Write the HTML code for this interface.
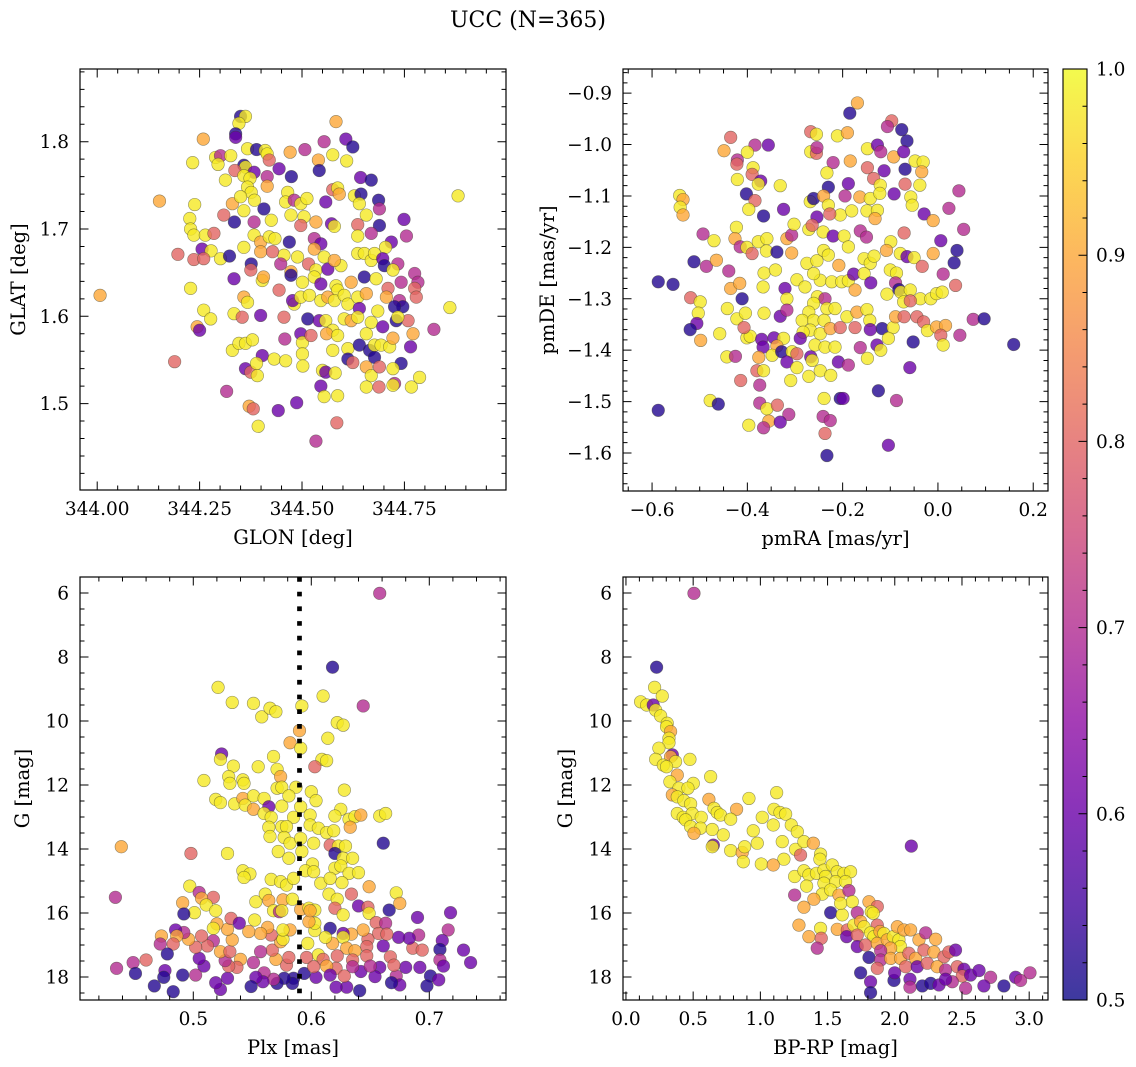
<!DOCTYPE html>
<html><head><meta charset="utf-8"><title>UCC (N=365)</title>
<style>
html,body{margin:0;padding:0;background:#fff;}
svg{display:block;font-family:"DejaVu Serif","Liberation Serif",serif;}
</style></head>
<body>
<svg id="fig" width="1136" height="1067" viewBox="0 0 1136 1067" xmlns="http://www.w3.org/2000/svg">
<defs>
<linearGradient id="plasmaGrad" x1="0" y1="1" x2="0" y2="0">
<stop offset="0" stop-color="#0d0887"/><stop offset="0.1" stop-color="#41049d"/><stop offset="0.2" stop-color="#6a00a8"/><stop offset="0.3" stop-color="#8f0da4"/><stop offset="0.4" stop-color="#b12a90"/><stop offset="0.5" stop-color="#cc4778"/><stop offset="0.6" stop-color="#e16462"/><stop offset="0.7" stop-color="#f2844b"/><stop offset="0.8" stop-color="#fca636"/><stop offset="0.9" stop-color="#fcce25"/><stop offset="1" stop-color="#f0f921"/>
</linearGradient>
</defs>
<text x="528" y="27" font-size="22" text-anchor="middle" fill="#000">UCC (N=365)</text>
</svg>
<script>
// ---------- Panel 1: GLON vs GLAT ----------
const glon = [344.350,344.362,344.346,344.338,344.338,344.259,344.583,344.554,344.607,344.624,344.367,344.389,344.410,344.415,344.420,344.471,344.507,344.575,344.540,344.609,344.233,344.289,344.301,344.326,344.295,344.358,344.362,344.383,344.336,344.444,344.474,344.542,344.643,344.669,344.313,344.358,344.373,344.415,344.415,344.367,344.376,344.152,344.238,344.330,344.350,344.384,344.407,344.465,344.460,344.481,344.497,344.512,344.558,344.575,344.587,344.591,344.628,344.644,344.687,344.689,344.640,344.881,
344.226,344.228,344.309,344.335,344.358,344.383,344.425,344.473,344.505,344.497,344.534,344.572,344.579,344.636,344.657,344.689,344.749,
344.236,344.264,344.285,344.256,344.278,344.301,344.323,344.197,344.236,344.260,344.358,344.383,344.399,344.420,344.434,344.469,344.456,344.489,344.530,344.546,344.530,344.636,344.669,344.718,344.755,
344.376,344.375,344.399,344.428,344.448,344.473,344.516,344.534,344.554,344.563,344.595,344.579,344.636,344.652,344.669,344.677,344.704,344.697,344.701,344.734,344.722,344.775,
344.334,344.403,344.406,344.444,344.473,344.501,344.530,344.546,344.583,344.587,344.620,344.652,344.681,344.710,344.742,344.783,344.775,344.228,
344.358,344.367,344.481,344.477,344.497,344.518,344.546,344.563,344.579,344.603,344.612,344.636,344.657,344.640,344.706,344.738,344.746,344.726,344.779,344.861,
344.260,344.277,344.334,344.354,344.399,344.456,344.514,344.542,344.558,344.575,344.603,344.620,344.636,344.685,344.669,344.697,344.730,344.759,344.734,
344.244,344.250,344.330,344.346,344.362,344.379,344.403,344.432,344.460,344.458,344.497,344.501,344.522,344.501,344.560,344.575,344.587,344.612,344.640,344.657,344.665,344.677,344.677,344.693,344.714,344.722,344.742,344.765,344.771,344.822,
344.189,344.362,344.375,344.389,344.391,344.502,344.550,344.558,344.581,344.612,344.624,344.657,344.669,344.689,344.722,344.726,344.722,344.787,344.767,
344.316,344.546,344.554,344.587,344.657,344.688,
344.371,344.381,344.442,344.487,344.393,344.585,344.534,344.007];
const glat = [1.829,1.829,1.821,1.809,1.805,1.803,1.823,1.800,1.803,1.794,1.792,1.791,1.790,1.786,1.779,1.788,1.791,1.785,1.779,1.778,1.776,1.782,1.784,1.784,1.774,1.773,1.771,1.765,1.767,1.769,1.760,1.767,1.759,1.756,1.756,1.761,1.758,1.760,1.749,1.748,1.742,1.732,1.728,1.729,1.737,1.733,1.723,1.742,1.731,1.733,1.729,1.735,1.731,1.745,1.747,1.740,1.738,1.740,1.733,1.723,1.729,1.738,
1.712,1.700,1.716,1.708,1.721,1.708,1.710,1.716,1.714,1.704,1.708,1.706,1.703,1.705,1.716,1.704,1.711,
1.693,1.693,1.695,1.677,1.675,1.666,1.669,1.671,1.665,1.666,1.679,1.693,1.685,1.691,1.689,1.685,1.670,1.668,1.689,1.683,1.677,1.692,1.695,1.685,1.692,
1.660,1.653,1.674,1.674,1.660,1.651,1.660,1.653,1.668,1.654,1.658,1.664,1.672,1.672,1.664,1.672,1.679,1.666,1.658,1.660,1.653,1.649,
1.643,1.641,1.645,1.630,1.647,1.639,1.645,1.637,1.635,1.630,1.639,1.645,1.643,1.632,1.639,1.639,1.632,1.632,
1.622,1.616,1.614,1.618,1.622,1.624,1.618,1.622,1.618,1.624,1.614,1.622,1.626,1.609,1.622,1.618,1.611,1.611,1.622,1.610,
1.607,1.597,1.603,1.599,1.601,1.599,1.597,1.595,1.595,1.584,1.597,1.595,1.599,1.606,1.593,1.588,1.595,1.595,1.599,
1.588,1.584,1.561,1.569,1.569,1.573,1.555,1.551,1.549,1.574,1.580,1.570,1.578,1.557,1.580,1.561,1.578,1.563,1.567,1.580,1.561,1.553,1.567,1.567,1.565,1.575,1.546,1.565,1.580,1.585,
1.548,1.540,1.536,1.546,1.532,1.543,1.538,1.536,1.535,1.551,1.547,1.542,1.532,1.542,1.540,1.523,1.521,1.530,1.519,
1.514,1.520,1.508,1.509,1.519,1.519,
1.497,1.494,1.492,1.501,1.474,1.478,1.457,1.624];
const prob1 = [0.52,0.98,0.98,0.52,0.6,0.9,0.9,0.7,0.6,0.52,0.98,0.52,0.98,0.98,0.8,0.9,0.7,0.98,0.9,0.98,0.98,0.98,0.7,0.98,0.98,0.52,0.98,0.6,0.8,0.6,0.52,0.52,0.6,0.52,0.98,0.98,0.98,0.7,0.9,0.98,0.98,0.9,0.98,0.9,0.98,0.98,0.52,0.98,0.98,0.7,0.98,0.98,0.6,0.8,0.98,0.9,0.98,0.52,0.52,0.7,0.98,0.98,
0.98,0.98,0.8,0.52,0.98,0.7,0.98,0.98,0.98,0.8,0.9,0.6,0.98,0.8,0.98,0.52,0.6,
0.98,0.98,0.8,0.6,0.98,0.98,0.52,0.8,0.8,0.8,0.98,0.98,0.9,0.98,0.98,0.52,0.98,0.98,0.7,0.6,0.9,0.98,0.7,0.6,0.7,
0.52,0.8,0.9,0.8,0.7,0.9,0.8,0.98,0.98,0.6,0.98,0.9,0.98,0.98,0.98,0.98,0.98,0.6,0.52,0.7,0.98,0.7,
0.6,0.98,0.9,0.8,0.52,0.98,0.98,0.6,0.98,0.98,0.9,0.52,0.98,0.8,0.7,0.7,0.8,0.98,
0.9,0.98,0.98,0.6,0.98,0.98,0.98,0.9,0.98,0.98,0.98,0.98,0.9,0.6,0.9,0.7,0.52,0.52,0.8,0.98,
0.98,0.98,0.98,0.8,0.6,0.8,0.52,0.6,0.98,0.98,0.98,0.9,0.98,0.98,0.98,0.6,0.52,0.8,0.98,
0.9,0.6,0.98,0.98,0.98,0.98,0.6,0.98,0.98,0.7,0.6,0.98,0.8,0.98,0.9,0.98,0.98,0.98,0.52,0.98,0.52,0.52,0.98,0.98,0.98,0.9,0.52,0.6,0.9,0.7,
0.8,0.6,0.8,0.98,0.98,0.98,0.98,0.6,0.98,0.52,0.8,0.9,0.98,0.8,0.98,0.7,0.98,0.98,0.98,
0.7,0.6,0.98,0.98,0.98,0.8,
0.9,0.8,0.6,0.6,0.98,0.8,0.7,0.9];

// ---------- Panel 2: pmRA vs pmDE ----------
const pmra = [-0.169,-0.185,-0.097,-0.106,-0.076,-0.065,-0.435,-0.384,-0.356,-0.449,-0.400,-0.421,-0.422,-0.388,-0.390,-0.372,-0.377,-0.421,-0.331,-0.402,-0.384,-0.397,-0.366,-0.324,-0.542,-0.535,-0.541,-0.535,
-0.267,-0.255,-0.211,-0.190,-0.267,-0.255,-0.254,-0.148,-0.127,-0.120,-0.093,-0.072,-0.184,-0.220,-0.233,-0.148,-0.113,-0.069,-0.048,-0.031,-0.034,-0.188,-0.135,-0.121,-0.230,-0.069,-0.038,0.044,
-0.268,-0.261,-0.240,-0.230,-0.195,-0.164,-0.142,-0.122,-0.092,-0.057,-0.054,-0.029,-0.010,0.023,0.054,-0.205,-0.181,-0.149,-0.127,-0.132,-0.254,-0.227,
-0.423,-0.493,-0.470,-0.426,-0.415,-0.401,-0.390,-0.377,-0.359,-0.360,-0.338,-0.317,-0.307,-0.302,-0.307,-0.271,-0.264,-0.241,-0.220,-0.197,-0.188,-0.163,-0.150,-0.099,-0.071,-0.079,-0.108,-0.065,-0.050,-0.033,-0.010,0.006,0.040,0.034,0.011,0.037,
-0.512,-0.486,-0.465,-0.439,-0.587,-0.556,-0.519,-0.499,-0.503,-0.506,-0.520,-0.498,-0.458,-0.442,-0.435,-0.416,-0.411,-0.422,-0.404,
-0.365,-0.367,-0.341,-0.321,-0.317,-0.365,-0.331,-0.317,-0.296,-0.279,-0.275,-0.254,-0.240,-0.230,-0.208,-0.247,-0.261,-0.223,-0.202,-0.188,-0.174,-0.177,-0.155,-0.142,-0.134,-0.155,-0.141,-0.100,-0.087,-0.089,-0.107,-0.082,-0.078,-0.072,-0.058,-0.037,-0.015,-0.003,0.009,-0.058,
-0.253,-0.237,-0.261,-0.233,-0.216,-0.191,-0.170,-0.149,-0.271,-0.285,-0.261,-0.239,-0.268,-0.247,-0.226,-0.205,-0.174,-0.143,-0.117,-0.142,-0.094,-0.089,-0.071,-0.044,-0.030,-0.022,-0.003,0.016,0.006,0.011,0.046,0.074,0.097,0.159,
-0.283,-0.289,-0.258,-0.237,-0.216,-0.104,-0.128,-0.120,-0.163,-0.148,-0.052,-0.059,
-0.401,-0.394,-0.407,-0.370,-0.367,-0.344,-0.324,-0.338,-0.348,-0.328,-0.306,-0.296,-0.317,-0.296,-0.267,-0.264,-0.443,-0.425,-0.376,-0.380,-0.366,-0.414,-0.374,-0.309,-0.271,-0.247,-0.225,-0.209,-0.188,
-0.478,-0.461,-0.587,-0.374,-0.359,-0.337,-0.313,-0.397,-0.355,-0.331,-0.366,-0.239,-0.205,-0.199,-0.125,-0.087,-0.241,-0.226,-0.237,-0.104,-0.233];
const pmde = [-0.919,-0.939,-0.954,-0.965,-0.971,-0.993,-0.986,-1.001,-1.001,-1.012,-1.015,-1.030,-1.038,-1.045,-1.058,-1.071,-1.077,-1.068,-1.080,-1.096,-1.109,-1.126,-1.139,-1.126,-1.099,-1.107,-1.122,-1.137,
-0.975,-0.980,-0.983,-0.977,-1.014,-1.017,-1.006,-1.008,-1.001,-1.014,-1.024,-1.014,-1.032,-1.035,-1.055,-1.045,-1.051,-1.048,-1.032,-1.034,-1.053,-1.076,-1.066,-1.079,-1.083,-1.077,-1.079,-1.090,
-1.111,-1.105,-1.100,-1.118,-1.100,-1.102,-1.105,-1.095,-1.096,-1.102,-1.118,-1.135,-1.148,-1.124,-1.165,-1.137,-1.129,-1.129,-1.128,-1.144,-1.141,-1.135,
-1.161,-1.174,-1.187,-1.183,-1.199,-1.200,-1.212,-1.189,-1.183,-1.207,-1.209,-1.183,-1.176,-1.155,-1.211,-1.165,-1.157,-1.170,-1.178,-1.178,-1.199,-1.168,-1.180,-1.189,-1.172,-1.212,-1.206,-1.218,-1.220,-1.237,-1.212,-1.187,-1.206,-1.230,-1.252,-1.274,
-1.228,-1.237,-1.225,-1.246,-1.267,-1.272,-1.298,-1.306,-1.328,-1.348,-1.360,-1.381,-1.368,-1.319,-1.280,-1.270,-1.300,-1.339,-1.328,
-1.250,-1.277,-1.244,-1.280,-1.300,-1.328,-1.334,-1.322,-1.263,-1.277,-1.231,-1.226,-1.206,-1.215,-1.235,-1.264,-1.251,-1.267,-1.267,-1.265,-1.283,-1.252,-1.222,-1.231,-1.217,-1.251,-1.269,-1.244,-1.250,-1.269,-1.291,-1.282,-1.287,-1.306,-1.283,-1.300,-1.300,-1.290,-1.287,-1.304,
-1.296,-1.300,-1.309,-1.319,-1.319,-1.335,-1.326,-1.321,-1.326,-1.342,-1.342,-1.342,-1.361,-1.368,-1.358,-1.356,-1.356,-1.342,-1.358,-1.360,-1.356,-1.335,-1.335,-1.335,-1.345,-1.362,-1.355,-1.352,-1.371,-1.390,-1.371,-1.340,-1.339,-1.389,
-1.365,-1.377,-1.390,-1.394,-1.394,-1.377,-1.390,-1.400,-1.395,-1.416,-1.384,-1.434,
-1.376,-1.373,-1.356,-1.379,-1.394,-1.376,-1.377,-1.392,-1.410,-1.403,-1.403,-1.407,-1.423,-1.434,-1.413,-1.420,-1.413,-1.412,-1.414,-1.440,-1.440,-1.459,-1.468,-1.459,-1.451,-1.440,-1.449,-1.423,-1.429,
-1.498,-1.505,-1.517,-1.503,-1.514,-1.507,-1.525,-1.546,-1.538,-1.540,-1.551,-1.494,-1.494,-1.494,-1.479,-1.498,-1.529,-1.537,-1.562,-1.585,-1.605];
const prob2 = [0.9,0.52,0.8,0.7,0.52,0.52,0.8,0.7,0.6,0.9,0.98,0.7,0.8,0.98,0.8,0.6,0.98,0.98,0.98,0.52,0.8,0.98,0.52,0.6,0.98,0.9,0.98,0.9,
0.8,0.98,0.98,0.9,0.98,0.8,0.7,0.98,0.6,0.7,0.9,0.6,0.9,0.7,0.98,0.8,0.6,0.52,0.98,0.98,0.9,0.6,0.8,0.98,0.52,0.8,0.98,0.7,
0.98,0.52,0.9,0.98,0.7,0.9,0.98,0.98,0.6,0.98,0.98,0.6,0.9,0.7,0.7,0.98,0.98,0.98,0.98,0.9,0.6,0.8,
0.98,0.7,0.98,0.9,0.7,0.98,0.8,0.98,0.98,0.98,0.52,0.9,0.7,0.98,0.9,0.98,0.8,0.98,0.6,0.98,0.98,0.7,0.7,0.98,0.8,0.98,0.9,0.6,0.98,0.8,0.9,0.6,0.52,0.52,0.7,0.8,
0.52,0.7,0.9,0.7,0.52,0.52,0.8,0.98,0.98,0.6,0.52,0.9,0.98,0.98,0.9,0.9,0.52,0.98,0.98,
0.98,0.98,0.98,0.6,0.98,0.98,0.6,0.7,0.98,0.98,0.98,0.98,0.98,0.98,0.9,0.98,0.98,0.98,0.98,0.98,0.9,0.6,0.98,0.98,0.98,0.98,0.6,0.98,0.98,0.7,0.98,0.52,0.98,0.98,0.98,0.98,0.98,0.98,0.98,0.8,
0.98,0.7,0.98,0.98,0.98,0.98,0.9,0.98,0.98,0.98,0.98,0.98,0.98,0.98,0.9,0.8,0.8,0.98,0.52,0.6,0.98,0.9,0.8,0.8,0.8,0.98,0.9,0.9,0.8,0.98,0.7,0.7,0.52,0.52,
0.98,0.6,0.98,0.98,0.98,0.98,0.6,0.98,0.7,0.98,0.52,0.6,
0.98,0.98,0.8,0.6,0.6,0.6,0.98,0.9,0.98,0.52,0.98,0.8,0.6,0.98,0.6,0.98,0.98,0.7,0.9,0.8,0.98,0.8,0.7,0.98,0.98,0.98,0.98,0.6,0.7,
0.98,0.52,0.52,0.7,0.98,0.8,0.7,0.98,0.9,0.6,0.7,0.98,0.52,0.6,0.52,0.7,0.7,0.7,0.8,0.6,0.52];

// ---------- Panel 3: Plx vs G ----------
const plx = [0.658,0.618,0.521,0.533,0.551,0.558,0.565,0.570,0.592,0.610,0.644,0.590,0.582,0.591,0.622,0.627,0.614,0.609,0.613,0.603,0.524,0.523,0.534,0.555,0.568,0.571,0.509,0.530,0.531,0.542,0.543,0.574,0.571,0.575,0.587,
0.519,0.523,0.535,0.542,0.544,0.551,0.551,0.560,0.564,0.575,0.581,0.600,0.604,0.628,0.560,0.566,0.585,0.591,0.599,0.625,0.620,0.632,0.637,0.642,0.658,0.663,
0.633,0.564,0.575,0.579,0.599,0.606,0.613,0.619,0.565,0.577,0.582,0.591,0.602,0.616,0.623,0.629,0.661,
0.439,0.498,0.529,0.572,0.581,0.592,0.620,0.627,0.635,0.601,0.595,0.602,0.620,0.625,0.632,0.640,0.542,0.548,0.543,0.566,0.574,0.579,0.585,0.608,0.616,0.626,0.649,
0.497,0.434,0.505,0.517,0.507,0.511,0.491,0.501,0.492,0.519,0.553,0.561,0.564,0.576,0.584,0.568,0.573,0.575,0.591,0.598,0.603,0.615,0.622,0.620,0.627,0.634,0.640,0.648,0.649,0.666,0.672,0.675,0.690,0.718,
0.716,0.711,0.709,0.729,0.735,0.709,0.712,0.701,0.698,0.708,0.692,0.691,0.686,0.694,0.683,0.674,0.680,0.672,0.675,0.668,0.661,0.667,0.670,0.658,0.654,0.655,0.663,0.657,0.664,0.648,0.644,0.647,0.647,0.642,0.641,0.650,
0.634,0.627,0.627,0.630,0.637,0.635,0.635,0.630,0.621,0.622,0.621,0.628,0.616,0.618,0.612,0.606,0.610,0.613,0.616,0.604,0.603,0.603,0.598,0.599,0.597,0.596,0.594,0.602,
0.585,0.584,0.577,0.571,0.568,0.560,0.559,0.553,0.549,0.579,0.581,0.570,0.567,0.574,0.576,0.582,0.576,0.566,0.563,0.557,0.557,0.552,0.547,0.551,0.540,0.537,0.529,0.523,0.519,0.530,0.527,0.523,0.531,0.533,0.529,0.520,0.517,0.532,0.539,
0.517,0.512,0.509,0.505,0.502,0.507,0.502,0.496,0.492,0.485,0.486,0.483,0.478,0.473,0.472,0.476,0.475,0.467,0.483,0.491,0.460,0.449,0.451,0.435];
const gmag3 = [6.01,8.32,8.95,9.42,9.45,9.87,9.60,9.71,9.53,9.22,9.53,10.30,10.68,10.85,10.05,10.13,10.54,11.20,11.24,11.43,11.03,11.20,11.41,11.43,11.11,11.51,11.86,11.74,11.95,11.84,11.95,11.74,12.10,12.07,12.07,
12.45,12.55,12.59,12.42,12.63,12.34,12.76,12.42,12.68,12.66,12.34,12.21,12.49,12.16,12.89,13.01,13.01,12.68,12.94,12.76,12.97,13.07,12.99,12.94,12.97,12.89,
13.32,13.32,13.30,13.30,13.25,13.35,13.49,13.43,13.61,13.64,13.82,13.67,13.82,13.88,13.91,13.91,13.82,
13.93,14.14,14.14,14.08,14.29,14.08,14.14,14.29,14.29,14.47,14.68,14.71,14.60,14.53,14.76,14.74,14.68,14.78,14.89,14.95,15.02,15.13,14.92,15.07,14.92,15.05,15.18,
15.16,15.51,15.36,15.51,15.54,15.75,15.68,15.99,16.03,15.93,15.65,15.41,15.61,15.59,15.57,15.93,15.96,15.93,15.89,15.85,15.91,15.41,15.57,15.85,16.06,15.41,15.78,15.82,16.01,15.91,15.37,15.70,16.14,15.99,
16.53,16.86,17.14,17.16,17.55,17.47,17.66,17.97,18.28,18.09,17.70,16.69,17.10,17.16,16.79,16.76,17.70,17.97,18.25,18.18,17.03,17.37,17.63,17.70,17.99,16.30,16.32,16.64,16.66,16.82,16.53,17.05,17.34,17.83,18.43,17.66,
16.66,16.64,16.76,17.10,17.18,17.47,17.68,18.32,18.32,17.34,17.73,17.97,16.48,16.95,16.76,17.31,17.45,17.66,17.94,18.01,16.55,16.32,16.27,15.93,16.95,17.39,17.89,17.68,
18.04,18.20,18.04,18.20,18.07,17.87,18.15,18.01,18.30,17.63,17.39,17.45,17.16,16.90,16.82,16.53,16.53,16.69,16.45,16.64,17.21,16.22,16.58,17.55,17.45,17.70,18.04,18.39,18.18,17.66,17.49,17.21,17.21,16.84,16.51,16.34,16.48,16.17,16.32,
16.87,17.03,17.66,17.42,17.94,16.72,17.07,16.82,16.61,16.53,16.72,16.97,17.28,16.72,16.97,17.80,18.01,18.28,18.46,17.94,17.47,17.55,17.89,17.73];
const prob3 = [0.7,0.52,0.98,0.98,0.98,0.98,0.98,0.98,0.98,0.98,0.7,0.9,0.9,0.98,0.98,0.98,0.98,0.98,0.98,0.8,0.6,0.98,0.98,0.98,0.98,0.98,0.98,0.98,0.98,0.98,0.98,0.9,0.98,0.98,0.98,
0.98,0.98,0.98,0.9,0.98,0.98,0.9,0.98,0.6,0.98,0.98,0.98,0.98,0.98,0.98,0.98,0.98,0.98,0.98,0.98,0.98,0.98,0.98,0.9,0.98,0.98,
0.9,0.98,0.98,0.98,0.98,0.98,0.98,0.98,0.98,0.98,0.98,0.98,0.98,0.8,0.98,0.98,0.52,
0.9,0.8,0.98,0.98,0.98,0.98,0.52,0.98,0.98,0.98,0.98,0.98,0.98,0.98,0.98,0.98,0.98,0.98,0.98,0.98,0.98,0.98,0.98,0.98,0.98,0.98,0.9,
0.98,0.7,0.7,0.8,0.9,0.98,0.9,0.98,0.52,0.98,0.98,0.98,0.9,0.9,0.98,0.98,0.7,0.98,0.9,0.98,0.98,0.98,0.98,0.8,0.98,0.8,0.6,0.8,0.98,0.52,0.98,0.9,0.6,0.6,
0.7,0.6,0.52,0.6,0.6,0.7,0.6,0.52,0.52,0.6,0.6,0.7,0.8,0.8,0.6,0.6,0.6,0.7,0.6,0.52,0.6,0.8,0.8,0.6,0.6,0.8,0.7,0.8,0.8,0.8,0.9,0.8,0.8,0.6,0.52,0.7,
0.9,0.6,0.98,0.9,0.9,0.8,0.7,0.6,0.6,0.8,0.8,0.8,0.52,0.9,0.98,0.98,0.8,0.9,0.6,0.6,0.98,0.98,0.9,0.9,0.98,0.8,0.52,0.8,
0.52,0.52,0.52,0.52,0.7,0.7,0.6,0.6,0.52,0.8,0.8,0.9,0.8,0.9,0.98,0.9,0.98,0.8,0.9,0.9,0.7,0.98,0.9,0.7,0.9,0.8,0.6,0.6,0.6,0.8,0.7,0.9,0.8,0.9,0.9,0.9,0.98,0.8,0.6,
0.7,0.8,0.6,0.6,0.7,0.8,0.8,0.9,0.7,0.6,0.9,0.8,0.52,0.9,0.7,0.6,0.52,0.52,0.52,0.52,0.8,0.7,0.52,0.7];
const plxMedian = 0.59;

// ---------- Panel 4: BP-RP vs G ----------
const bprp = [0.506,0.228,0.213,0.270,0.109,0.154,0.203,0.221,0.258,0.307,0.302,0.332,0.320,0.320,0.245,0.345,0.332,0.221,0.369,0.278,0.302,0.476,0.382,0.327,0.630,0.501,0.394,0.461,0.345,0.382,0.431,0.481,0.617,0.915,1.121,0.823,0.655,0.679,
0.382,0.426,0.493,0.560,0.444,0.704,0.779,1.014,1.101,1.146,1.188,1.096,0.481,0.555,0.506,0.642,0.724,0.947,1.230,1.275,
0.650,0.642,0.779,0.865,0.883,0.873,0.977,1.163,1.175,1.262,1.299,1.324,1.394,1.448,1.443,
1.007,1.096,1.255,1.324,1.361,1.418,1.473,1.485,1.535,1.572,1.622,1.671,1.344,1.473,1.560,1.634,
1.255,1.461,1.523,1.585,1.659,1.684,1.324,1.398,1.523,1.609,1.597,1.721,1.808,1.870,1.825,1.840,
1.287,1.448,1.361,1.453,1.423,1.572,1.647,1.696,1.746,1.771,1.870,1.642,1.721,1.820,1.845,1.890,1.919,1.721,1.783,1.870,1.944,1.989,2.031,2.019,2.068,2.118,2.180,2.230,2.304,
2.043,1.969,1.895,1.808,1.895,1.870,1.969,2.043,2.105,2.155,2.217,2.291,2.366,2.403,2.452,2.081,2.167,2.242,2.316,2.378,2.465,2.515,2.502,2.564,2.627,2.713,2.663,2.812,2.899,2.936,3.006,1.746,1.820,1.820,1.994,1.999,2.113,2.113,2.205,2.267,2.329,2.428,2.378,2.527,2.123];
const gmag4 = [6.01,8.32,8.95,9.22,9.40,9.50,9.50,9.66,9.84,10.07,10.18,10.33,10.54,10.68,10.85,11.06,11.12,11.20,11.27,11.38,11.43,11.20,11.69,11.90,11.74,11.95,12.10,12.10,12.31,12.37,12.49,12.59,12.45,12.42,12.24,12.76,12.73,12.86,
12.89,13.01,12.89,13.01,13.09,12.94,13.07,13.01,12.76,12.86,12.91,13.25,13.30,13.35,13.51,13.39,13.56,13.43,13.25,13.46,
13.88,13.93,14.05,14.11,13.93,14.40,13.82,13.77,14.32,14.01,14.19,13.77,13.82,14.16,14.32,
14.47,14.50,14.86,14.68,14.81,14.76,14.66,14.86,14.50,14.71,14.76,14.71,15.16,15.07,15.02,15.02,
15.44,15.41,15.28,15.44,15.30,15.65,15.82,15.57,15.99,16.06,15.70,15.99,15.65,15.80,15.96,16.01,
16.38,16.48,16.74,16.79,17.10,16.51,16.53,16.38,16.27,16.43,16.38,16.74,16.69,16.62,16.74,16.58,16.64,17.05,17.00,16.95,16.84,16.74,16.84,16.43,16.53,16.53,16.84,16.62,16.82,
17.05,17.10,17.18,17.39,17.47,17.73,17.42,17.42,17.26,17.42,17.16,17.22,17.37,17.22,17.16,17.68,17.68,17.57,17.68,17.78,17.68,17.76,17.97,17.94,17.80,18.01,18.28,18.28,18.01,18.11,17.87,17.87,18.15,18.49,18.11,17.87,18.07,18.32,18.28,18.20,18.25,18.15,18.07,18.35,13.91];
const prob4 = [0.7,0.52,0.98,0.98,0.98,0.98,0.6,0.98,0.98,0.98,0.98,0.9,0.98,0.98,0.98,0.6,0.9,0.98,0.98,0.98,0.98,0.98,0.9,0.98,0.98,0.98,0.98,0.98,0.9,0.98,0.98,0.98,0.9,0.98,0.98,0.9,0.98,0.98,
0.98,0.98,0.98,0.98,0.98,0.98,0.98,0.98,0.98,0.98,0.98,0.98,0.98,0.98,0.9,0.98,0.98,0.98,0.98,0.98,
0.6,0.98,0.98,0.9,0.98,0.98,0.98,0.98,0.98,0.98,0.8,0.98,0.9,0.98,0.98,
0.98,0.9,0.98,0.98,0.98,0.98,0.98,0.98,0.98,0.98,0.98,0.98,0.98,0.98,0.98,0.98,
0.7,0.98,0.98,0.9,0.7,0.98,0.9,0.9,0.52,0.98,0.98,0.7,0.9,0.8,0.98,0.98,
0.9,0.98,0.9,0.8,0.7,0.9,0.8,0.98,0.9,0.98,0.8,0.6,0.8,0.98,0.98,0.9,0.98,0.6,0.8,0.9,0.9,0.98,0.98,0.9,0.9,0.9,0.9,0.7,0.9,
0.98,0.9,0.7,0.52,0.7,0.8,0.9,0.9,0.8,0.9,0.8,0.9,0.8,0.8,0.6,0.8,0.6,0.8,0.9,0.7,0.8,0.6,0.8,0.6,0.6,0.7,0.6,0.52,0.6,0.7,0.7,0.52,0.6,0.52,0.52,0.6,0.6,0.7,0.52,0.52,0.6,0.7,0.6,0.7,0.6];

// ---------- Colorbar ----------
const cbTicks = [0.5,0.6,0.7,0.8,0.9,1.0];
const cbMin = 0.5, cbMax = 1.0;

// ---------- rendering ----------
const NS = 'http://www.w3.org/2000/svg';
const svg = document.getElementById('fig');
const TICK_FS = 18.5, LABEL_FS = 19.5;
const plasmaStops = ['#0d0887','#41049d','#6a00a8','#8f0da4','#b12a90','#cc4778','#e16462','#f2844b','#fca636','#fcce25','#f0f921'];
function hexRgb(h){return [parseInt(h.slice(1,3),16),parseInt(h.slice(3,5),16),parseInt(h.slice(5,7),16)];}
function plasma(v){
  let t=(v-cbMin)/(cbMax-cbMin); t=Math.max(0,Math.min(1,t));
  const p=t*10, i=Math.min(9,Math.floor(p)), f=p-i;
  const a=hexRgb(plasmaStops[i]), b=hexRgb(plasmaStops[i+1]);
  return 'rgb('+a.map((c,k)=>Math.round(c+(b[k]-c)*f)).join(',')+')';
}
function mk(tag, attrs, parent){
  const e=document.createElementNS(NS,tag);
  for(const k in attrs) e.setAttribute(k,attrs[k]);
  (parent||svg).appendChild(e);
  return e;
}
function fmt(v,d){const s=Math.abs(v).toFixed(d);return (v<-1e-9?'\u2212':'')+s;}
function ticksBetween(min,max,step){
  const out=[];const a=Math.ceil(min/step-1e-6), b=Math.floor(max/step+1e-6);
  for(let i=a;i<=b;i++) out.push(+(i*step).toFixed(6));
  return out;
}
function makePanel(cfg){
  const g=mk('g',{});
  
  
  const sx=v=>cfg.l+(v-cfg.xmin)/(cfg.xmax-cfg.xmin)*(cfg.r-cfg.l);
  const sy=cfg.invert ? (v=>cfg.t+(v-cfg.ymin)/(cfg.ymax-cfg.ymin)*(cfg.b-cfg.t))
                      : (v=>cfg.b-(v-cfg.ymin)/(cfg.ymax-cfg.ymin)*(cfg.b-cfg.t));
  const pts=mk('g',{},g);
  
  
  for(let i=0;i<cfg.xs.length;i++){
    const c=mk('circle',{cx:sx(cfg.xs[i]).toFixed(2),cy:sy(cfg.ys[i]).toFixed(2),r:6.3,fill:plasma(cfg.cs[i]),'fill-opacity':0.8,stroke:'rgba(60,60,40,0.55)','stroke-width':0.6},pts);
    
    
  }
  if(cfg.extra) cfg.extra(g,sx,sy);
  const fr=mk('rect',{x:cfg.l,y:cfg.t,width:cfg.r-cfg.l,height:cfg.b-cfg.t,fill:'none',stroke:'#000','stroke-width':1.2},g);
  
  
  const tk=mk('g',{stroke:'#000','stroke-width':1},g);
  
  
  const majX=ticksBetween(cfg.xmin,cfg.xmax,cfg.xMaj), minX=ticksBetween(cfg.xmin,cfg.xmax,cfg.xMin);
  const majY=ticksBetween(Math.min(cfg.ymin,cfg.ymax),Math.max(cfg.ymin,cfg.ymax),cfg.yMaj), minY=ticksBetween(Math.min(cfg.ymin,cfg.ymax),Math.max(cfg.ymin,cfg.ymax),cfg.yMin);
  let d='';
  minX.forEach(v=>{const x=sx(v);d+=`M${x},${cfg.b}v-4.5M${x},${cfg.t}v4.5`;});
  majX.forEach(v=>{const x=sx(v);d+=`M${x},${cfg.b}v-8.5M${x},${cfg.t}v8.5`;});
  minY.forEach(v=>{const y=sy(v);d+=`M${cfg.l},${y}h4.5M${cfg.r},${y}h-4.5`;});
  majY.forEach(v=>{const y=sy(v);d+=`M${cfg.l},${y}h8.5M${cfg.r},${y}h-8.5`;});
  mk('path',{d:d,fill:'none'},tk);
  majX.forEach(v=>{
    const t=mk('text',{x:sx(v),y:cfg.b+25,'font-size':TICK_FS,'text-anchor':'middle'},g);
    t.textContent=fmt(v,cfg.xDec);
    
    
  });
  majY.forEach(v=>{
    const t=mk('text',{x:cfg.l-11,y:sy(v)+6.5,'font-size':TICK_FS,'text-anchor':'end'},g);
    t.textContent=fmt(v,cfg.yDec);
    
    
  });
  const xl=mk('text',{x:(cfg.l+cfg.r)/2,y:cfg.b+54,'font-size':LABEL_FS,'text-anchor':'middle'},g);
  xl.textContent=cfg.xLabel;
  
  
  const cy=(cfg.t+cfg.b)/2;
  const yl=mk('text',{x:cfg.yLabelX,y:cy,'font-size':LABEL_FS,'text-anchor':'middle',transform:`rotate(-90 ${cfg.yLabelX} ${cy})`},g);
  yl.textContent=cfg.yLabel;
  
  
}

makePanel({name:'glon-glat-panel',l:80,r:506,t:69,b:490,xmin:343.958,xmax:344.998,ymin:1.401,ymax:1.8833,
  xMaj:0.25,xMin:0.05,yMaj:0.1,yMin:0.02,xDec:2,yDec:1,xs:glon,ys:glat,cs:prob1,
  xLabel:'GLON [deg]',yLabel:'GLAT [deg]',yLabelX:25});
makePanel({name:'pm-panel',l:623,r:1048,t:69,b:491,xmin:-0.661,xmax:0.231,ymin:-1.674,ymax:-0.853,
  xMaj:0.2,xMin:0.05,yMaj:0.1,yMin:0.02,xDec:1,yDec:1,xs:pmra,ys:pmde,cs:prob2,
  xLabel:'pmRA [mas/yr]',yLabel:'pmDE [mas/yr]',yLabelX:554});
makePanel({name:'plx-g-panel',l:80,r:506,t:577,b:1000,xmin:0.404,xmax:0.765,ymin:5.5,ymax:18.72,invert:true,
  xMaj:0.1,xMin:0.02,yMaj:2,yMin:0.5,xDec:1,yDec:0,xs:plx,ys:gmag3,cs:prob3,
  xLabel:'Plx [mas]',yLabel:'G [mag]',yLabelX:29,
  extra:(g,sx,sy)=>{
    const ln=mk('line',{x1:sx(plxMedian),x2:sx(plxMedian),y1:577,y2:1000,stroke:'#000','stroke-width':4.7,'stroke-dasharray':'4.7 10'},g);
    
    
  }});
makePanel({name:'cmd-panel',l:623,r:1048,t:577,b:1000,xmin:-0.022,xmax:3.14,ymin:5.5,ymax:18.72,invert:true,
  xMaj:0.5,xMin:0.1,yMaj:2,yMin:0.5,xDec:1,yDec:0,xs:bprp,ys:gmag4,cs:prob4,
  xLabel:'BP-RP [mag]',yLabel:'G [mag]',yLabelX:572});

(function(){
  const L=1063,R=1087,T=69,B=1000;
  const g=mk('g',{});
  
  
  const bar=mk('rect',{x:L,y:T,width:R-L,height:B-T,fill:'url(#plasmaGrad)','fill-opacity':0.8},g);
  
  
  const fr=mk('rect',{x:L,y:T,width:R-L,height:B-T,fill:'none',stroke:'#000','stroke-width':1.1},g);
  
  
  const sy=v=>B-(v-cbMin)/(cbMax-cbMin)*(B-T);
  let d='';
  ticksBetween(cbMin,cbMax,0.02).forEach(v=>{d+=`M${R},${sy(v)}h-4.5`;});
  cbTicks.forEach(v=>{d+=`M${R},${sy(v)}h-8.5`;});
  const tp=mk('path',{d:d,stroke:'#000','stroke-width':1,fill:'none'},g);
  
  
  cbTicks.forEach(v=>{
    const t=mk('text',{x:R+9,y:sy(v)+6.5,'font-size':TICK_FS},g);
    t.textContent=v.toFixed(1);
    
    
  });
})();
</script>
</body></html>
